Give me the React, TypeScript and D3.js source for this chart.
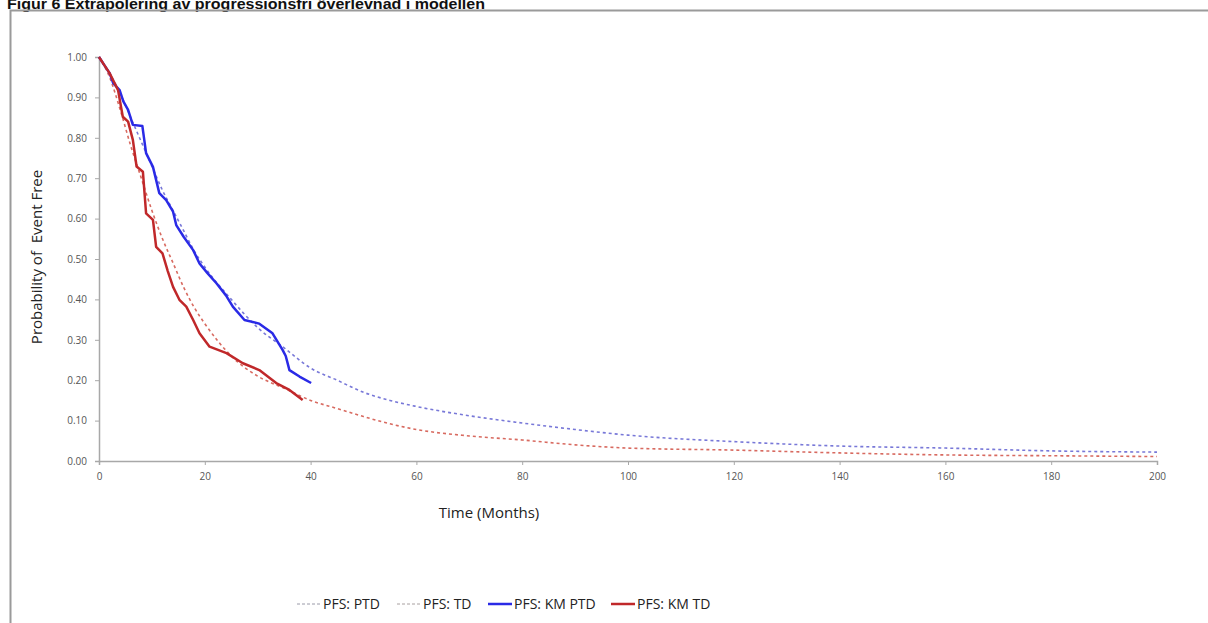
import { useEffect, useRef } from "react";
import * as d3 from "d3";

// Kaplan-Meier, PTD arm
const kmPtdTime = [0, 1, 2, 2.7, 3.9, 4.6, 5.5, 6.4, 8.2, 8.9, 10.2, 11.4, 12.7, 14.0, 14.6, 16, 17.8, 19.0, 20.5, 22.2, 24, 25.3, 27.5, 30.3, 32.8, 34.7, 35.3, 36.0, 37.9, 40.1];
const kmPtdSurv = [1, 0.98, 0.96, 0.935, 0.918, 0.89, 0.869, 0.832, 0.829, 0.762, 0.728, 0.663, 0.646, 0.617, 0.584, 0.555, 0.522, 0.489, 0.465, 0.44, 0.41, 0.382, 0.349, 0.34, 0.316, 0.275, 0.26, 0.225, 0.209, 0.193];

// Kaplan-Meier, TD arm
const kmTdTime = [0, 1, 2, 3.6, 4.5, 5.5, 6.4, 7.1, 8.3, 8.9, 10.2, 10.8, 12.0, 13, 14.0, 15.2, 16.5, 17.8, 19.0, 20.9, 24.1, 27.2, 30.3, 33.5, 36.0, 38.5];
const kmTdSurv = [1, 0.98, 0.96, 0.918, 0.852, 0.84, 0.795, 0.729, 0.716, 0.613, 0.597, 0.53, 0.514, 0.47, 0.431, 0.399, 0.382, 0.349, 0.316, 0.283, 0.267, 0.242, 0.225, 0.193, 0.176, 0.151];

// extrapolated model curves
const fitTime = [0, 2, 4, 6, 8, 10, 12, 14, 16, 18, 20, 25, 30, 35, 40, 45, 50, 55, 60, 70, 80, 90, 100, 120, 140, 160, 180, 200];
const fitPtd = [1, 0.96, 0.91, 0.85, 0.79, 0.73, 0.67, 0.62, 0.57, 0.52, 0.48, 0.4, 0.33, 0.28, 0.23, 0.2, 0.17, 0.15, 0.135, 0.112, 0.094, 0.078, 0.064, 0.048, 0.037, 0.032, 0.025, 0.022];
const fitTd = [1, 0.95, 0.87, 0.78, 0.7, 0.62, 0.55, 0.49, 0.43, 0.38, 0.34, 0.26, 0.21, 0.18, 0.15, 0.13, 0.11, 0.092, 0.078, 0.062, 0.052, 0.04, 0.032, 0.027, 0.02, 0.015, 0.013, 0.011];

const xTicks = [0, 20, 40, 60, 80, 100, 120, 140, 160, 180, 200];
const yTicks = [0, 0.1, 0.2, 0.3, 0.4, 0.5, 0.6, 0.7, 0.8, 0.9, 1.0];

const legendItems = [
  { label: "PFS: PTD", color: "#9a9aa8", dash: "3,2", width: 1, x: 297 },
  { label: "PFS: TD", color: "#a8a0a0", dash: "3,2", width: 1, x: 397 },
  { label: "PFS: KM PTD", color: "#2a2ae6", dash: null, width: 2.5, x: 488 },
  { label: "PFS: KM TD", color: "#c0282a", dash: null, width: 2.5, x: 611 },
];

export default function App() {
  const ref = useRef<SVGSVGElement>(null);

  useEffect(() => {
    const svg = d3.select(ref.current);
    svg.selectAll("*").remove();

    const font = "'Liberation Sans', Arial, sans-serif";
    const calibri = "'Open Sans', 'Liberation Sans', sans-serif";

    // title (cut off at top, like the source page)
    svg.append("text")
      .attr("x", 7).attr("y", 9)
      .attr("font-family", font).attr("font-weight", "bold").attr("font-size", 15)
      .attr("textLength", 478).attr("lengthAdjust", "spacingAndGlyphs")
      .attr("fill", "#111")
      .text("Figur 6 Extrapolering av progressionsfri överlevnad i modellen");

    // frame
    svg.append("rect")
      .attr("x", 10.5).attr("y", 10.5).attr("width", 1210).attr("height", 640)
      .attr("fill", "none").attr("stroke", "#9a9a9a").attr("stroke-width", 2);

    const x = d3.scaleLinear().domain([0, 200]).range([99, 1157]);
    const y = d3.scaleLinear().domain([0, 1]).range([461, 57]);

    const g = svg.append("g");

    // y axis
    const yAxis = g.append("g")
      .attr("transform", `translate(${x(0)},0)`)
      .call(d3.axisLeft(y).tickValues(yTicks).tickFormat(d3.format(".2f")).tickSize(4).tickPadding(8));
    // x axis
    const xAxis = g.append("g")
      .attr("transform", `translate(0,${y(0)})`)
      .call(d3.axisBottom(x).tickValues(xTicks).tickSize(4).tickPadding(8));
    [yAxis, xAxis].forEach((a) => {
      a.select(".domain").attr("stroke", "#a8a8a8").attr("stroke-width", 1.5);
      a.selectAll(".tick line").attr("stroke", "#a8a8a8");
      a.selectAll(".tick text").attr("fill", "#555").attr("font-size", 10).attr("font-family", calibri);
    });

    const line = d3.line<[number, number]>().x((d) => x(d[0])).y((d) => y(d[1]));
    const pairs = (t: number[], s: number[]) => t.map((v, i) => [v, s[i]] as [number, number]);

    // model curves (dashed)
    g.append("path").datum(pairs(fitTime, fitPtd))
      .attr("fill", "none").attr("stroke", "#7878d8").attr("stroke-width", 1.6)
      .attr("stroke-dasharray", "3,3")
      .attr("d", line.curve(d3.curveMonotoneX));
    g.append("path").datum(pairs(fitTime, fitTd))
      .attr("fill", "none").attr("stroke", "#d86a60").attr("stroke-width", 1.6)
      .attr("stroke-dasharray", "3,3")
      .attr("d", line.curve(d3.curveMonotoneX));

    const kmLine = d3.line<[number, number]>().x((d) => x(d[0])).y((d) => y(d[1]));
    g.append("path").datum(pairs(kmPtdTime, kmPtdSurv))
      .attr("fill", "none").attr("stroke", "#2a2ae6").attr("stroke-width", 2.5)
      .attr("stroke-linejoin", "round").attr("d", kmLine);
    g.append("path").datum(pairs(kmTdTime, kmTdSurv))
      .attr("fill", "none").attr("stroke", "#c0282a").attr("stroke-width", 2.5)
      .attr("stroke-linejoin", "round").attr("d", kmLine);

    // axis titles
    svg.append("text")
      .attr("x", 489).attr("y", 518).attr("text-anchor", "middle")
      .attr("font-family", calibri).attr("font-size", 15).attr("fill", "#222")
      .text("Time (Months)");
    svg.append("text")
      .attr("transform", "translate(42,257) rotate(-90)").attr("text-anchor", "middle")
      .attr("font-family", calibri).attr("font-size", 15).attr("fill", "#222")
      .attr("xml:space", "preserve")
      .text("Probability of  Event Free");

    // legend
    const leg = svg.append("g");
    legendItems.forEach((it) => {
      leg.append("line")
        .attr("x1", it.x).attr("x2", it.x + 24).attr("y1", 604).attr("y2", 604)
        .attr("stroke", it.color).attr("stroke-width", it.width)
        .attr("stroke-dasharray", it.dash);
      leg.append("text")
        .attr("x", it.x + 26).attr("y", 609)
        .attr("font-family", calibri).attr("font-size", 14).attr("fill", "#222")
        .text(it.label);
    });
  }, []);

  return (
    <svg
      ref={ref}
      width={1208}
      height={623}
      style={{ position: "absolute", left: 0, top: 0, background: "#fff" }}
    />
  );
}
